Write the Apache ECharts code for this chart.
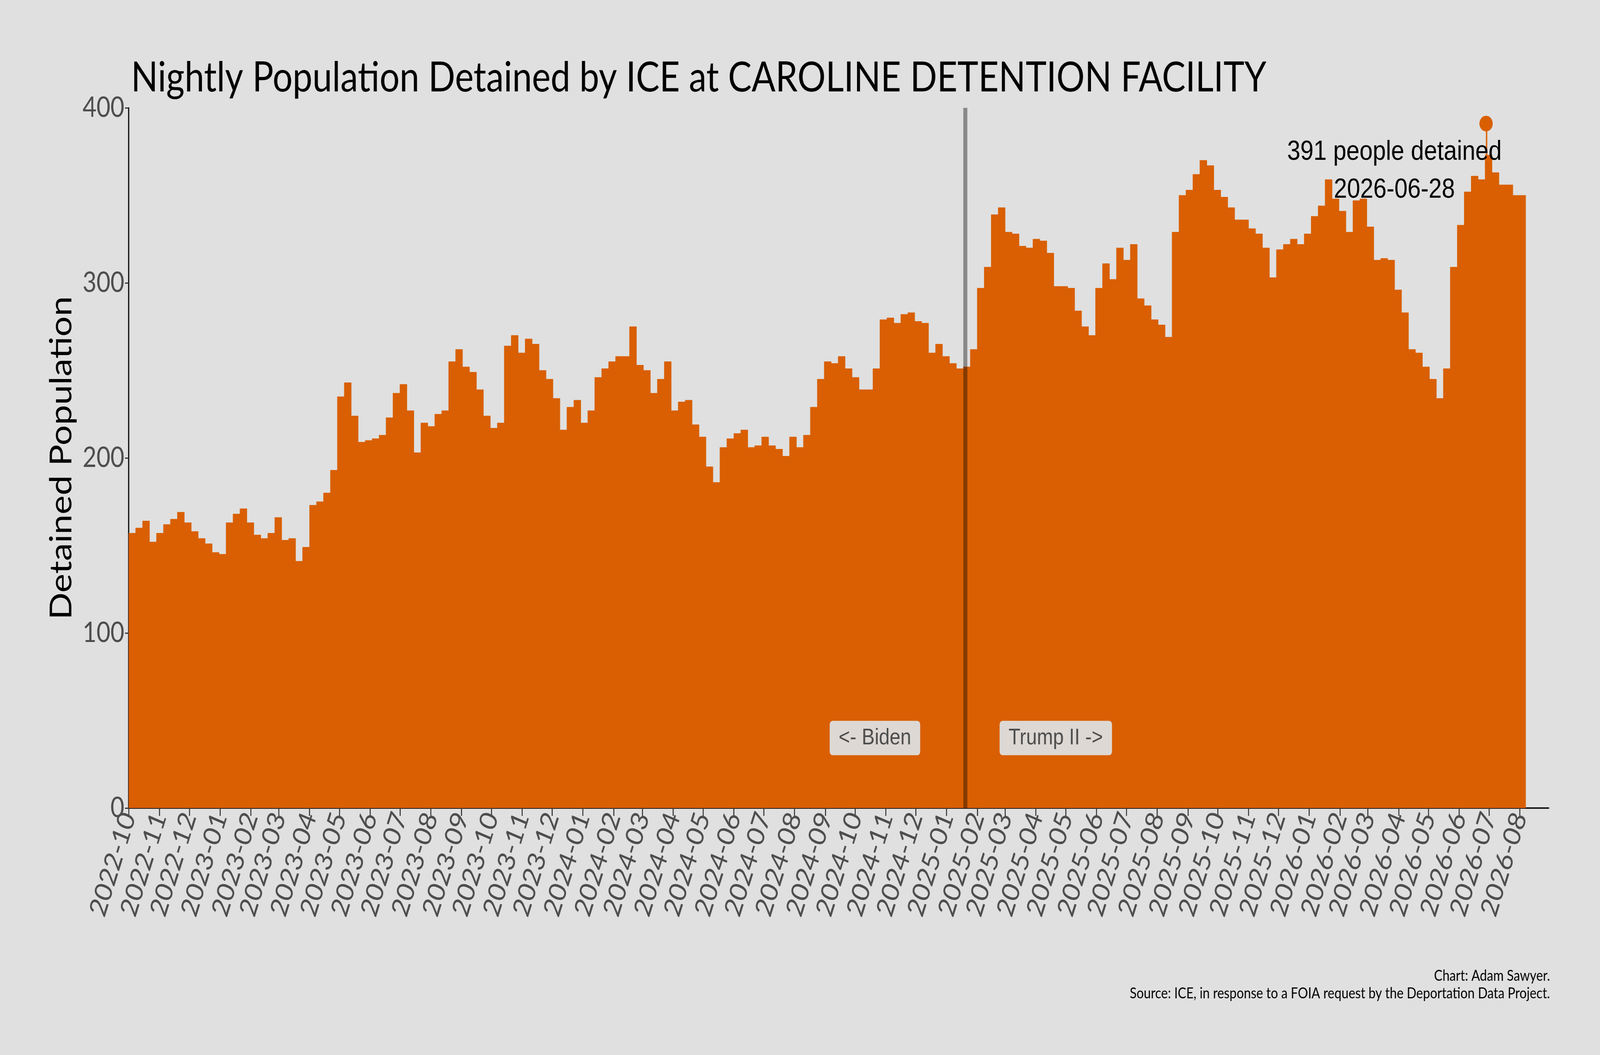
<!DOCTYPE html>
<html>
<head>
<meta charset="utf-8">
<title>Caroline Detention Facility</title>
<script src="https://cdn.jsdelivr.net/npm/echarts@6/dist/echarts.min.js"></script>
<style>
  html, body { margin: 0; padding: 0; background: #e0e0e0; overflow: hidden; }
  #chart { width: 4800px; height: 2700px; transform-origin: 0 0; }
</style>
</head>
<body>
<div id="chart"></div>
<script>
// weekly nightly population, first week starts on startDate
var startDate = '2022-10-01';
var endDate = '2026-08-07';
var weekly = [
    157, 160, 164, 152, 157, 162, 165, 169, 163, 158,
    154, 151, 146, 145, 163, 168, 171, 163, 156, 154,
    157, 166, 153, 154, 141, 149, 173, 175, 180, 193,
    235, 243, 224, 209, 210, 211, 213, 223, 237, 242,
    227, 203, 220, 218, 225, 227, 255, 262, 252, 249,
    239, 224, 217, 220, 264, 270, 260, 268, 265, 250,
    245, 234, 216, 229, 233, 220, 227, 246, 251, 255,
    258, 258, 275, 253, 250, 237, 245, 255, 227, 232,
    233, 219, 212, 195, 186, 206, 211, 214, 216, 206,
    207, 212, 207, 205, 201, 212, 206, 213, 229, 245,
    255, 254, 258, 251, 246, 239, 239, 251, 279, 280,
    277, 282, 283, 278, 277, 260, 265, 258, 254, 251,
    252, 262, 297, 309, 339, 343, 329, 328, 321, 320,
    325, 324, 317, 298, 298, 297, 284, 275, 270, 297,
    311, 302, 320, 313, 322, 291, 287, 279, 276, 269,
    329, 350, 353, 362, 370, 367, 353, 349, 343, 336,
    336, 331, 328, 320, 303, 319, 322, 325, 322, 328,
    338, 344, 359, 348, 341, 329, 347, 348, 332, 313,
    314, 313, 296, 283, 262, 260, 252, 245, 234, 251,
    309, 333, 352, 361, 359, 373, 363, 356, 356, 350,
    350
];

// highest night
var peakDate = '2026-06-28';
var peakValue = 391;

// administrations
var inaugurationDate = '2025-01-20';
var eraLabels = ['<- Biden', 'Trump II ->'];
var eraLabelDates = ['2024-10-21', '2025-04-21'];
var eraLabelLevel = 40;

var yTicks = [0, 100, 200, 300, 400];
var axisStart = '2022-10-01';
var axisEnd = '2026-08-30';

var ORANGE = '#d95f02';
var DAY = 86400000;

function toTime(s) {
    var p = s.split('-');
    return Date.UTC(+p[0], +p[1] - 1, +p[2]);
}

// the chart is laid out at 4800x2700; squeeze it into a smaller window if needed
var box = document.getElementById('chart');
var sx = Math.min(1, window.innerWidth / 4800);
var sy = Math.min(1, window.innerHeight / 2700);
box.style.transform = 'scale(' + sx + ',' + sy + ')';

// build [time, value] points for a step area
var t0 = toTime(startDate);
var points = [];
for (var i = 0; i < weekly.length; i++) {
    points.push([t0 + 7 * i * DAY, weekly[i]]);
}
var tp = toTime(peakDate);
var peakWeek = Math.floor((tp - t0) / (7 * DAY));
points.push([tp, peakValue]);
points.push([tp + DAY, weekly[peakWeek]]);
points.sort(function (a, b) { return a[0] - b[0]; });
points.push([toTime(endDate), weekly[weekly.length - 1]]);

var eraPoints = [];
for (var j = 0; j < eraLabels.length; j++) {
    eraPoints.push({ name: eraLabels[j], coord: [toTime(eraLabelDates[j]), eraLabelLevel] });
}

var chart = echarts.init(box, null, { renderer: 'canvas', width: 4800, height: 2700 });

var option = {
    useUTC: true,
    backgroundColor: '#e0e0e0',
    animation: false,
    title: {
        text: 'Nightly Population Detained by ICE at CAROLINE DETENTION FACILITY',
        left: 388,
        top: 142,
        textStyle: { fontFamily: 'Lato', fontSize: 106, fontWeight: 'normal', color: '#000' }
    },
    grid: { left: 386, right: 154, top: 276, bottom: 632, containLabel: false },
    xAxis: {
        type: 'time',
        min: toTime(axisStart),
        max: toTime(axisEnd),
        splitNumber: 50,
        minInterval: 28 * DAY,
        maxInterval: 31 * DAY,
        axisLine: { show: true, lineStyle: { color: '#000', width: 3.5 } },
        axisTick: { show: true, length: 20, lineStyle: { color: '#333', width: 3 } },
        axisLabel: {
            rotate: 70,
            margin: 14,
            formatter: '{yyyy}-{MM}',
            color: '#4d4d4d',
            fontFamily: 'Lato',
            fontSize: 72,
            hideOverlap: false
        },
        splitLine: { show: false }
    },
    yAxis: {
        type: 'value',
        min: yTicks[0],
        max: yTicks[yTicks.length - 1],
        interval: 100,
        name: 'Detained Population',
        nameLocation: 'middle',
        nameRotate: 90,
        nameGap: 156,
        nameTextStyle: { fontFamily: 'Lato', fontSize: 92, color: '#000' },
        axisLine: { show: true, lineStyle: { color: '#000', width: 3.5 } },
        axisTick: { show: true, length: 11, lineStyle: { color: '#333', width: 3 } },
        axisLabel: { margin: 13, color: '#4d4d4d', fontFamily: 'Lato', fontSize: 72 },
        splitLine: { show: false }
    },
    graphic: [
        {
            type: 'text',
            right: 150,
            top: 2475,
            style: {
                text: 'Chart: Adam Sawyer.\nSource: ICE, in response to a FOIA request by the Deportation Data Project.',
                textAlign: 'right',
                fontFamily: 'Lato',
                fontSize: 38,
                lineHeight: 45,
                fill: '#000'
            }
        }
    ],
    series: [
        {
            type: 'line',
            step: 'end',
            data: points,
            symbol: 'none',
            lineStyle: { color: ORANGE, width: 1 },
            areaStyle: { color: ORANGE, opacity: 1 },
            z: 2,
            markLine: {
                silent: true,
                symbol: 'none',
                label: { show: false },
                lineStyle: { color: 'rgba(0,0,0,0.39)', width: 12, type: 'solid' },
                data: [{ xAxis: toTime(inaugurationDate) }]
            },
            markPoint: {
                silent: true,
                symbol: 'rect',
                symbolSize: 1,
                itemStyle: { color: 'rgba(0,0,0,0)' },
                label: {
                    show: true,
                    position: 'inside',
                    formatter: '{b}',
                    color: '#4d4d4d',
                    fontFamily: 'Liberation Sans',
                    fontSize: 58,
                    lineHeight: 66,
                    backgroundColor: '#ddd8d4',
                    padding: [11, 27],
                    borderRadius: 9
                },
                data: eraPoints
            }
        },
        {
            type: 'scatter',
            data: [[tp, peakValue]],
            symbolSize: 40,
            itemStyle: { color: ORANGE, opacity: 1 },
            z: 5,
            label: {
                show: true,
                position: 'inside',
                offset: [-275, 122],
                formatter: function () { return peakValue + ' people detained\n' + peakDate; },
                color: '#000',
                fontFamily: 'Liberation Sans',
                fontSize: 71,
                lineHeight: 97,
                align: 'center'
            }
        }
    ]
};

chart.setOption(option);
</script>
</body>
</html>
